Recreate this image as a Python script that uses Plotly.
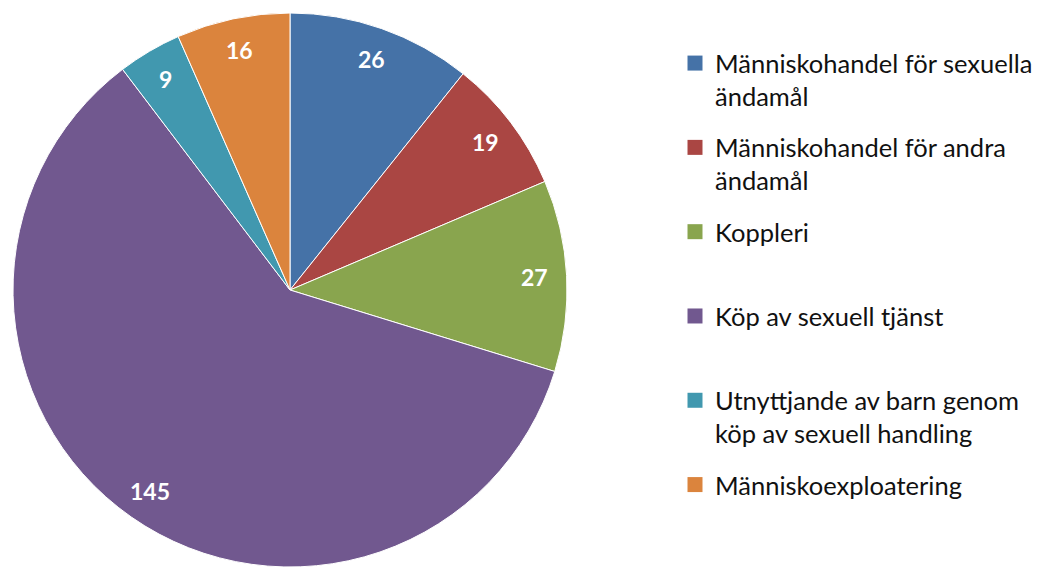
import math
import plotly.graph_objects as go

labels = [
    "Människohandel för sexuella ändamål",
    "Människohandel för andra ändamål",
    "Koppleri",
    "Köp av sexuell tjänst",
    "Utnyttjande av barn genom köp av sexuell handling",
    "Människoexploatering",
]
legend_labels = [
    "Människohandel för sexuella<br>ändamål",
    "Människohandel för andra<br>ändamål",
    "Koppleri<br> ",
    "Köp av sexuell tjänst<br> ",
    "Utnyttjande av barn genom<br>köp av sexuell handling",
    "Människoexploatering<br> ",
]
values = [26, 19, 27, 145, 9, 16]
colors = ["#4572A7", "#AA4643", "#89A54E", "#71588F", "#4198AF", "#DB843D"]

# the page body has an 8px margin, so the figure is a bit smaller than the window
OFF = 8
W, H = 1042 - OFF, 567 - OFF
R = 277
CX, CY = 290 - OFF, 290 - OFF  # pixel center inside the figure

fig = go.Figure()
fig.add_trace(go.Pie(
    labels=labels,
    values=values,
    sort=False,
    direction="clockwise",
    rotation=0,
    marker=dict(colors=colors, line=dict(color="white", width=1)),
    textinfo="none",
    hoverinfo="label+value",
    showlegend=False,
    domain=dict(x=[(CX - R) / W, (CX + R) / W],
                y=[max(0, (H - CY - R) / H), min(1, (H - CY + R) / H)]),
))

# legend entries (one group per category so the entries are evenly spaced)
for lab, leg, col in zip(labels, legend_labels, colors):
    fig.add_trace(go.Scatter(
        x=[None], y=[None], mode="markers", name=leg,
        legendgroup=lab, showlegend=True, hoverinfo="skip",
        marker=dict(symbol="square", size=15, color=col, line=dict(width=0)),
    ))

# value labels placed inside each slice
total = sum(values)
cum = 0
annotations = []
for v in values:
    mid = (cum + v / 2) / total * 2 * math.pi
    cum += v
    r = 0.885 * R
    px = CX + r * math.sin(mid)
    py = CY - r * math.cos(mid)
    annotations.append(dict(
        x=px / W, y=1 - py / H, xref="paper", yref="paper",
        text=f"<b>{v}</b>", showarrow=False,
        font=dict(family="Lato, sans-serif", size=23, color="white"),
        xanchor="center", yanchor="middle",
    ))

fig.update_layout(
    width=W, height=H,
    margin=dict(l=0, r=0, t=0, b=0),
    paper_bgcolor="white",
    plot_bgcolor="white",
    annotations=annotations,
    xaxis=dict(visible=False),
    yaxis=dict(visible=False),
    legend=dict(
        x=667 / W, y=1 - 32 / H, xanchor="left", yanchor="top",
        font=dict(family="Lato, sans-serif", size=25.5, color="#111111"),
        traceorder="grouped",
        tracegroupgap=15,
        valign="top",
        bgcolor="rgba(0,0,0,0)",
    ),
    showlegend=True,
)

fig.write_html("out.html")
